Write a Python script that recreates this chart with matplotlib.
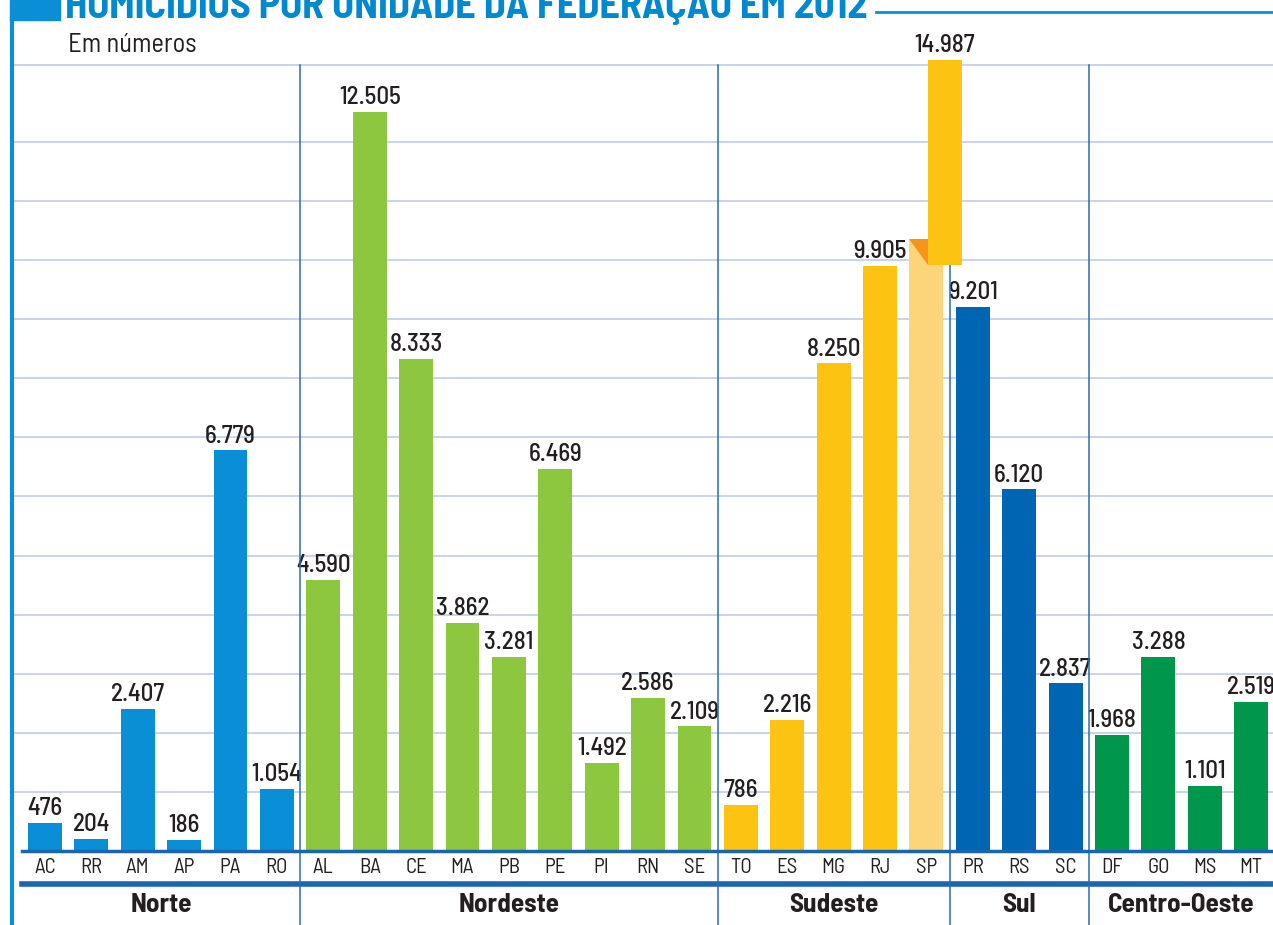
import matplotlib
matplotlib.use('Agg')
import matplotlib.pyplot as plt
from matplotlib.patches import Rectangle, Polygon
from matplotlib.lines import Line2D

plt.rcParams['font.family'] = ['Barlow Semi Condensed', 'DejaVu Sans']

# data
regions = ['Norte', 'Nordeste', 'Sudeste', 'Sul', 'Centro-Oeste']
norte_uf = ['AC', 'RR', 'AM', 'AP', 'PA', 'RO']
norte_val = [476, 204, 2407, 186, 6779, 1054]
nordeste_uf = ['AL', 'BA', 'CE', 'MA', 'PB', 'PE', 'PI', 'RN', 'SE']
nordeste_val = [4590, 12505, 8333, 3862, 3281, 6469, 1492, 2586, 2109]
sudeste_uf = ['TO', 'ES', 'MG', 'RJ', 'SP']
sudeste_val = [786, 2216, 8250, 9905, 14987]
sul_uf = ['PR', 'RS', 'SC']
sul_val = [9201, 6120, 2837]
co_uf = ['DF', 'GO', 'MS', 'MT']
co_val = [1968, 3288, 1101, 2519]

region_colors = ['#0a8fd6', '#8dc63f', '#fdc313', '#0066b3', '#00964b']
BLUE = '#0a8fd6'
DARK_BLUE = '#1b64b0'
TXT = '#231f20'

# the SP bar is drawn "broken" (folded), values where the cut happens
ymax = 13300
sp_cut_low = 9920
sp_cut_high = 10360
sp_drawn_top = 13380

groups = [(norte_uf, norte_val), (nordeste_uf, nordeste_val),
          (sudeste_uf, sudeste_val), (sul_uf, sul_val), (co_uf, co_val)]

W, H = 1273, 925
fig = plt.figure(figsize=(W / 100, H / 100), dpi=100)
ax = fig.add_axes([12 / W, 74 / H, 1 - 12 / W, 786 / H])

def fmt(v):
    return f'{v:,}'.replace(',', '.')

xt = ax.get_xaxis_transform()
bw = 0.73
i = 0
bounds = []
for (ufs, vals), col, reg in zip(groups, region_colors, regions):
    start = i
    for uf, v in zip(ufs, vals):
        if uf == 'SP':
            ax.bar(i, sp_cut_high, width=bw, color='#fcd57b', zorder=2)
            x0 = i - bw / 2
            xm = x0 + 0.4
            ax.add_patch(Polygon([(x0, sp_cut_high), (xm, sp_cut_high), (xm, sp_cut_low)],
                                 closed=True, color='#f7941d', zorder=3, lw=0))
            ax.bar(i + 0.4, sp_drawn_top - sp_cut_low, bottom=sp_cut_low, width=bw,
                   color=col, zorder=4, clip_on=False)
            ax.annotate(fmt(v), (i + 0.4, sp_drawn_top), xytext=(0, 2),
                        textcoords='offset points', ha='center', va='bottom',
                        fontsize=18, fontweight=500, color=TXT, annotation_clip=False)
        else:
            ax.bar(i, v, width=bw, color=col, zorder=2)
            ax.annotate(fmt(v), (i, v), xytext=(0, 2), textcoords='offset points',
                        ha='center', va='bottom', fontsize=18, fontweight=500, color=TXT)
        ax.text(i, -0.0216, uf, transform=xt, ha='center', va='center',
                fontsize=15, color=TXT)
        i += 1
    ax.text((start + i - 1) / 2, -0.0687, reg, transform=xt, ha='center', va='center',
            fontsize=19.5, fontweight='bold', color=TXT)
    bounds.append(i - 0.5)

for b in bounds[:-1]:
    ax.plot([b, b], [1, -0.1], transform=xt, color='#2b6cb3', lw=1.1,
            clip_on=False, zorder=3)

ax.plot([-0.5, 26.5], [0, 0], color=DARK_BLUE, lw=2.5, clip_on=False, zorder=5)
ax.plot([-0.5, 26.5], [-0.042, -0.042], transform=xt, color=DARK_BLUE, lw=4,
        clip_on=False)

ax.set_xlim(-0.71, 26.47)
ax.set_ylim(0, ymax)
ax.set_yticks(range(1000, 13000, 1000))
ax.grid(axis='y', color='#c3d1ea', lw=1.3, zorder=0)
ax.set_axisbelow(True)
ax.tick_params(left=False, bottom=False, labelleft=False, labelbottom=False)
for s in ['left', 'right', 'bottom']:
    ax.spines[s].set_visible(False)
ax.spines['top'].set_color('#c3d1ea')
ax.spines['top'].set_linewidth(1.3)

# header
fig.add_artist(Line2D([11.5 / W, 11.5 / W], [0, 1 - 18 / H], color=BLUE, lw=3))
fig.add_artist(Rectangle((10 / W, 1 - 20 / H), 50 / W, 20 / H, color=BLUE,
                         transform=fig.transFigure))
fig.text(65 / W, 1 - 18 / H, 'HOMICÍDIOS POR UNIDADE DA FEDERAÇÃO EM 2012',
         color='#0089cf', fontsize=29, fontweight='bold', va='baseline', ha='left')
fig.add_artist(Line2D([876 / W, 1], [1 - 12 / H, 1 - 12 / H], color=BLUE, lw=2))
fig.text(68 / W, 1 - 45 / H, 'Em números', fontsize=19, color=TXT,
         va='center', ha='left')

fig.savefig('out.png', dpi=100)
